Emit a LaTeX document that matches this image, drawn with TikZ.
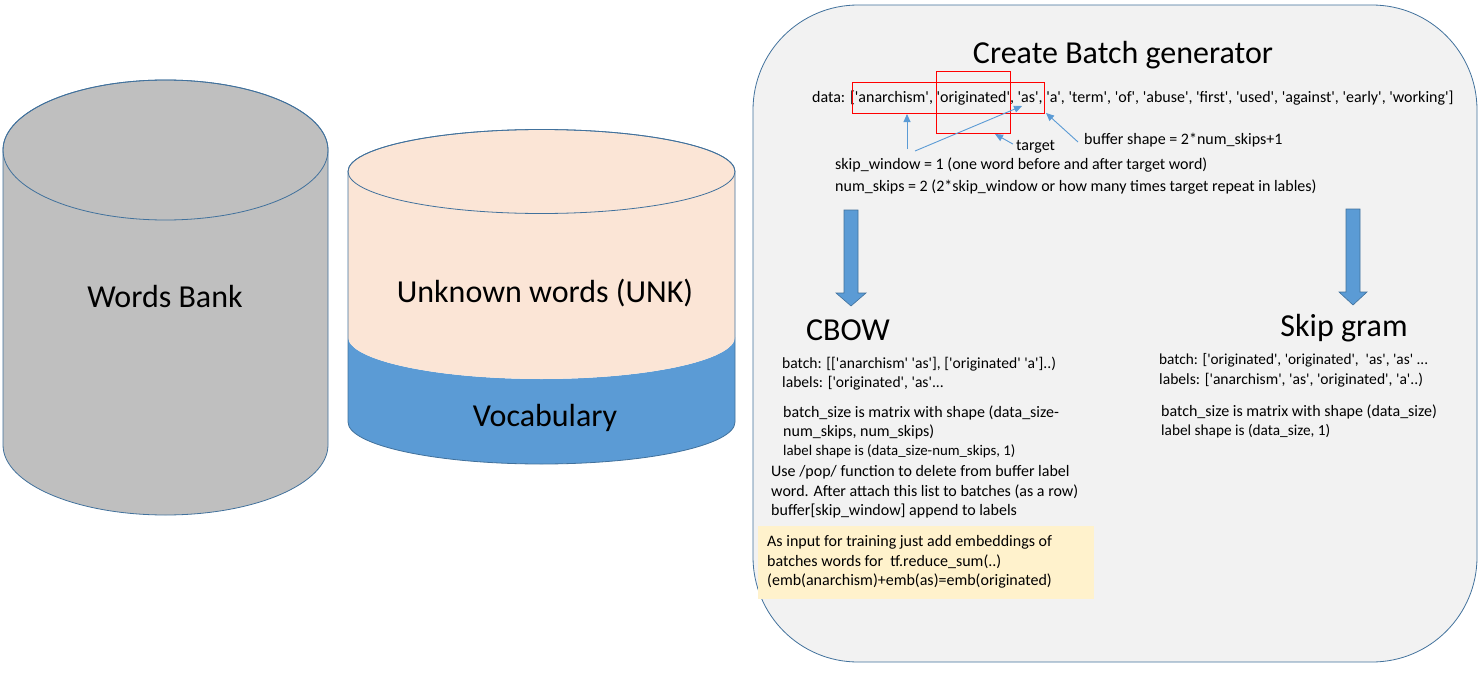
\documentclass[tikz,border=0pt]{standalone}
\usepackage{fontspec}
\setmainfont{Carlito}[Ligatures=TeXOff]
\usetikzlibrary{arrows.meta}
\definecolor{outl}{HTML}{41719C}
\definecolor{grayfill}{HTML}{BFBFBF}
\definecolor{beige}{HTML}{FBE5D6}
\definecolor{vblue}{HTML}{5B9BD5}
\definecolor{panel}{HTML}{F2F2F2}
\definecolor{yel}{HTML}{FFF2CC}
\definecolor{redl}{RGB}{255,0,0}
\tikzset{
  fs/.style={font=\fontsize{#1}{#1}\selectfont},
  txt/.style={anchor=west, inner sep=0pt, text height=0.72em, text depth=0.22em, yshift=-3pt, fs=#1},
  txt/.default=16,
  ctxt/.style={inner sep=0pt, fs=#1},
  redbox/.style={draw=redl, line width=1pt, inner sep=0pt},
  thinarrow/.style={draw=vblue, line width=0.9pt, -{Triangle[length=8pt,width=7pt]}},
  bigarrow/.style={fill=vblue, draw=outl, line width=0.6pt},
}
\begin{document}
\begin{tikzpicture}[x=1pt,y=1pt]
\useasboundingbox (0,0) rectangle (1480,-685);
% Words bank cylinder
\path[fill=grayfill, draw=outl, line width=0.8pt] (3,-150) -- (3,-445)
  arc[start angle=180, end angle=360, x radius=162.5, y radius=70] -- (328,-150)
  arc[start angle=0, end angle=180, x radius=162.5, y radius=70] -- cycle;
\draw[outl, line width=0.8pt] (165.5,-150) ellipse[x radius=162.5, y radius=70];
\node[ctxt=32] (wb) at (165,-297) {Words Bank};
% Vocabulary cylinder
\path[fill=vblue] (348,-337) -- (348,-422)
  arc[start angle=180, end angle=360, x radius=193.5, y radius=42] -- (735,-337)
  arc[start angle=0, end angle=-180, x radius=193.5, y radius=42] -- cycle;
\path[fill=beige] (348,-171.5) -- (348,-337)
  arc[start angle=180, end angle=360, x radius=193.5, y radius=42] -- (735,-171.5)
  arc[start angle=0, end angle=180, x radius=193.5, y radius=42] -- cycle;
\draw[outl, line width=0.8pt] (348,-171.5) -- (348,-422)
  arc[start angle=180, end angle=360, x radius=193.5, y radius=42] -- (735,-171.5)
  arc[start angle=0, end angle=180, x radius=193.5, y radius=42];
\draw[outl, line width=0.8pt] (541.5,-171.5) ellipse[x radius=193.5, y radius=42];
\node[ctxt=32] (unk) at (545,-293) {Unknown words (UNK)};
\node[ctxt=32] (voc) at (545,-418) {Vocabulary};
% Panel
\draw[fill=panel, draw=outl, line width=0.8pt, rounded corners=105pt] (753,-5) rectangle (1477,-662);
\node[ctxt=32] (title) at (1123,-55.5) {Create Batch generator};
\node[txt] (data) at (812,-97) {data: ['anarchism', 'originated', 'as', 'a', 'term', 'of', 'abuse', 'first', 'used', 'against', 'early', 'working']};
\node[redbox, minimum width=192pt, minimum height=31pt] (box1) at (948.5,-98) {};
\node[redbox, minimum width=74pt, minimum height=62pt] (box2) at (973.5,-102.5) {};
\node[txt] (target) at (1016,-145) {target};
\node[txt] (buffer) at (1084,-139) {buffer shape = 2*num\_skips+1};
\node[txt] (skipw) at (835,-164) {skip\_window = 1 (one word before and after target word)};
\node[txt] (nums) at (835,-186) {num\_skips = 2 (2*skip\_window or how many times target repeat in lables)};
\coordinate (s1) at (907,-149);
\coordinate (s2) at (915,-151);
\coordinate (asw) at (1022,-106);
\coordinate (tgt) at (995,-134);
\coordinate (buf) at (1046,-113);
\draw[thinarrow] (s1) -- (s1 |- box1.south);
\draw[thinarrow] (s2) -- (asw);
\draw[thinarrow] (target.north west) ++(-3,-1) -- (tgt);
\draw[thinarrow] (buffer.west) ++(-6,0) -- (buf);
% big arrows
\path[bigarrow] (844,-210) -- (858,-210) -- (858,-293) -- (866,-293) -- (851,-306) -- (836,-293) -- (844,-293) -- cycle;
\path[bigarrow] (1346,-209) -- (1360,-209) -- (1360,-292) -- (1367,-292) -- (1353,-305) -- (1339,-292) -- (1346,-292) -- cycle;
\node[ctxt=32] (cbow) at (848,-330) {CBOW};
\node[ctxt=32] (sg) at (1344,-328) {Skip gram};
% CBOW text
\node[txt=15.6] (cb1) at (782,-363) {batch: [['anarchism' 'as'], ['originated' 'a']..)};
\node[txt=15.6] (cb2) at (782,-382) {labels: ['originated', 'as'...};
\node[txt] (cb3) at (783,-412) {batch\_size is matrix with shape (data\_size-};
\node[txt] (cb4) at (783,-431) {num\_skips, num\_skips)};
\node[txt=14.8] (cb5) at (783,-450) {label shape is (data\_size-num\_skips, 1)};
\node[txt] (cb6) at (771,-471) {Use /pop/ function to delete from buffer label};
\node[txt] (cb7) at (771,-491) {word. After attach this list to batches (as a row)};
\node[txt] (cb8) at (771,-510) {buffer[skip\_window] append to labels};
\node[fill=yel, inner sep=0pt, minimum width=336pt, minimum height=73pt] (ybox) at (926,-562.5) {};
\node[txt] (y1) at (767,-541) {As input for training just add embeddings of};
\node[txt] (y2) at (767,-561) {batches words for\ \ tf.reduce\_sum(..)};
\node[txt] (y3) at (767,-580) {(emb(anarchism)+emb(as)=emb(originated)};
% Skip gram text
\node[txt=15.3] (sg1) at (1159,-359) {batch: ['originated', 'originated',\ \ 'as', 'as' ...};
\node[txt=15.6] (sg2) at (1159,-379) {labels: ['anarchism', 'as', 'originated', 'a'..)};
\node[txt] (sg3) at (1161,-411) {batch\_size is matrix with shape (data\_size)};
\node[txt=15.3] (sg4) at (1161,-430) {label shape is (data\_size, 1)};
\end{tikzpicture}
\end{document}
